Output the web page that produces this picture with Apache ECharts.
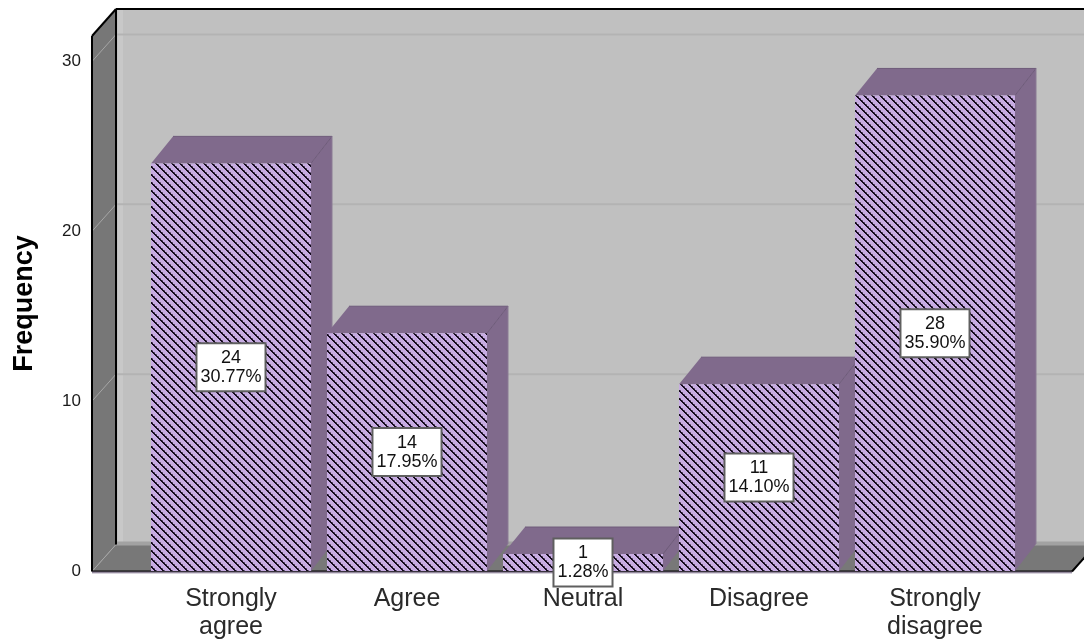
<!DOCTYPE html>
<html>
<head>
<meta charset="utf-8">
<style>html,body{margin:0;padding:0;background:#fff}#chart{width:1084px;height:641px}</style>
<script src="https://cdn.jsdelivr.net/npm/echarts@6/dist/echarts.min.js"></script>
</head>
<body>
<div id="chart"></div>
<script>
// Response frequencies for a five-point agreement question
const categories = ['Strongly\nagree', 'Agree', 'Neutral', 'Disagree', 'Strongly\ndisagree'];
const frequencies = [24, 14, 1, 11, 28];
const percentages = ['30.77%', '17.95%', '1.28%', '14.10%', '35.90%'];
const valueTicks = [10, 20, 30];

const FONT = '"Liberation Sans", Arial, sans-serif';
const C = {
  wall: '#c0c0c0', wallEdge: '#c8c8c8', wallFoot: '#a2a2a2', side: '#777777', floor: '#787878',
  grid: '#b3b3b3', sideGrid: '#a6a6a6', ink: '#000000',
  barFace: '#c7acE2', barDark: '#806a8c', barEdge: '#6e5b7a', baseline: '#9a8ca6'
};
const WALL_DX = 24, WALL_DY = 27, BAR_DX = 21, BAR_DY = 27;
const PLOT_OVERHANG_LEFT = 51, PLOT_OVERHANG_RIGHT = 49;

// Stepped diagonal hatch used on the bar fronts: solid dark stripe with a soft edge
function hatchPattern() {
  const c = document.createElement('canvas');
  c.width = 8; c.height = 8;
  const g = c.getContext('2d');
  g.fillStyle = C.barFace; g.fillRect(0, 0, 8, 8);
  for (let y = 0; y < 8; y++) {
    for (let x = 0; x < 8; x++) {
      const d = (x - y + 16) % 8;
      if (d === 0 || d === 1) { g.fillStyle = '#140a1c'; g.fillRect(x, y, 1, 1); }
      else if (d === 2 && y % 2 === 0) { g.fillStyle = '#6c5a7c'; g.fillRect(x, y, 1, 1); }
    }
  }
  return c;
}

function poly(points, fill) {
  return { type: 'polygon', shape: { points }, style: { fill } };
}
function line(x1, y1, x2, y2, stroke, lineWidth) {
  return { type: 'line', shape: { x1, y1, x2, y2 }, style: { stroke, lineWidth } };
}

// Back wall, side wall, floor and gridlines
function renderRoom(params, api) {
  const cs = params.coordSys;
  const L = cs.x - PLOT_OVERHANG_LEFT, R = cs.x + cs.width + PLOT_OVERHANG_RIGHT;
  const B = api.coord([0, 0])[1] + 0.5, T = cs.y;
  const bx = L + WALL_DX, tx = bx + (R - L);
  const byB = B - WALL_DY, byT = T - WALL_DY;
  const kids = [
    poly([[bx, byT], [tx, byT], [tx, byB], [bx, byB]], C.wall),
    { type: 'rect', shape: { x: bx + 2, y: byT, width: 5, height: byB - byT }, style: { fill: C.wallEdge } },
    poly([[L, T], [bx, byT], [bx, byB], [L, B]], C.side),
    poly([[L, B], [bx, byB], [tx, byB], [R, B]], C.floor),
    { type: 'rect', shape: { x: bx, y: byB - 3, width: tx - bx, height: 4 }, style: { fill: C.wallFoot } }
  ];
  valueTicks.forEach(v => {
    const y = api.coord([0, v])[1];
    kids.push(line(bx, y - WALL_DY, tx, y - WALL_DY, C.grid, 2));
    kids.push(line(L, y, bx, y - WALL_DY, C.sideGrid, 1));
  });
  kids.push(line(L, B, bx, byB, C.sideGrid, 1));
  kids.push(line(L, T, L, B, C.ink, 2));
  kids.push(line(bx, byT, bx, byB, C.ink, 2));
  kids.push(line(L, T, bx, byT, C.ink, 2));
  kids.push(line(bx, byT, tx, byT, C.ink, 2));
  kids.push(line(L, B, R, B, C.ink, 2));
  kids.push(line(R, B, tx, byB, C.ink, 2));
  return { type: 'group', children: kids };
}

// Top and right faces of each bar, drawn behind the hatched fronts
function renderBarDepth(params, api) {
  const i = api.value(0), v = api.value(1);
  const [cx, yt] = api.coord([i, v]);
  const yb = api.coord([i, 0])[1];
  const half = api.size([1, 0])[0] * (160 / 176) / 2;
  const x0 = cx - half, x1 = cx + half;
  const bx0 = x0 + BAR_DX + 1, bx1 = x1 + BAR_DX, by = yt - BAR_DY;
  return {
    type: 'group',
    children: [
      poly([[x1, yt], [bx1, by], [bx1, yb - BAR_DY], [x1, yb]], C.barDark),
      poly([[x0, yt], [bx0, by], [bx1, by], [x1, yt]], C.barDark),
      line(x1, yt, bx1, by, C.barEdge, 1),
      line(bx0, by, bx1, by, C.barEdge, 1),
      line(bx1, by, bx1, yb - BAR_DY, '#8a7a94', 1)
    ]
  };
}

// Thin strip running under the whole base of the chart
function renderBaseStrip(params, api) {
  const cs = params.coordSys;
  const L = cs.x - PLOT_OVERHANG_LEFT, R = cs.x + cs.width + PLOT_OVERHANG_RIGHT;
  const B = api.coord([0, 0])[1];
  return { type: 'group', children: [
    { type: 'rect', shape: { x: L, y: B + 0.5, width: R - L, height: 2 }, style: { fill: C.baseline, opacity: 0.75 } }
  ] };
}

const chart = echarts.init(document.getElementById('chart'), null, { renderer: 'canvas' });
chart.setOption({
  animation: false,
  backgroundColor: '#ffffff',
  grid: { left: 143, width: 880, top: 36, bottom: 70, containLabel: false },
  xAxis: {
    type: 'category',
    data: categories,
    axisLine: { show: false },
    axisTick: { show: false },
    splitLine: { show: false },
    axisLabel: {
      interval: 0, margin: 14, color: '#2a2a2a', fontFamily: FONT, fontSize: 25, lineHeight: 28
    }
  },
  yAxis: {
    type: 'value',
    min: 0, max: 31.5, interval: 10,
    offset: PLOT_OVERHANG_LEFT,
    name: 'Frequency',
    nameLocation: 'middle',
    nameGap: 54,
    nameRotate: 90,
    nameTextStyle: { fontFamily: FONT, fontWeight: 'bold', fontSize: 27, color: '#000' },
    axisLine: { show: false },
    axisTick: { show: false },
    splitLine: { show: false },
    axisLabel: {
      showMaxLabel: false, margin: 11, color: '#1a1a1a', fontFamily: FONT, fontSize: 17
    }
  },
  series: [
    {
      type: 'custom', z: 0, clip: false, silent: true,
      coordinateSystem: 'cartesian2d',
      renderItem: renderRoom,
      encode: { x: 0, y: 1 },
      data: [[0, 0]]
    },
    {
      type: 'custom', z: 1, clip: false, silent: true,
      coordinateSystem: 'cartesian2d',
      renderItem: renderBarDepth,
      encode: { x: 0, y: 1 },
      data: frequencies.map((v, i) => [i, v])
    },
    {
      type: 'bar', z: 2,
      data: frequencies,
      barWidth: 160,
      itemStyle: { color: { image: hatchPattern(), repeat: 'repeat' } },
      label: {
        show: true,
        position: 'inside',
        formatter: p => frequencies[p.dataIndex] + '\n' + percentages[p.dataIndex],
        color: '#111',
        fontFamily: FONT,
        fontSize: 18,
        lineHeight: 19,
        align: 'center',
        backgroundColor: '#ffffff',
        borderColor: '#5f5f5f',
        borderWidth: 2,
        padding: [4, 3, 4, 3]
      }
    },
    {
      type: 'custom', z: 1.5, clip: false, silent: true,
      coordinateSystem: 'cartesian2d',
      renderItem: renderBaseStrip,
      encode: { x: 0, y: 1 },
      data: [[0, 0]]
    }
  ]
});
</script>
</body>
</html>
